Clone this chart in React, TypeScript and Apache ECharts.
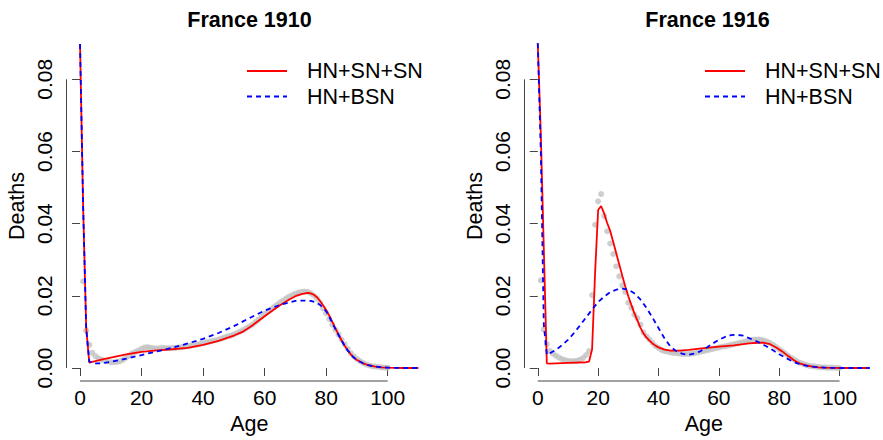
import React, { useEffect, useRef } from 'react';
import * as echarts from 'echarts';

const FONT = 'Liberation Sans, Arial, Helvetica, sans-serif';
const PANEL_TITLES = ['France 1910', 'France 1916'];
const LEGEND_NAMES = ['HN+SN+SN', 'HN+BSN'];
const X_TICKS = [0, 20, 40, 60, 80, 100];
const Y_TICKS = [0, 0.02, 0.04, 0.06, 0.08];
const X_MIN = -4.4;
const X_MAX = 114.4;
const Y_MIN = -0.0036;
const Y_MAX = 0.0934;

// observed deaths (grey dots), ages 1..100
const DOT_AGES = Array.from({ length: 100 }, (_, i) => i + 1);
const DOTS_1910 = [
  0.024, 0.0104, 0.0064, 0.0042, 0.0033, 0.0027, 0.0023, 0.002, 0.0018, 0.0016,
  0.0016, 0.0017, 0.0019, 0.0023, 0.0029, 0.0035, 0.0041, 0.0045, 0.0049, 0.0053,
  0.0057, 0.0058, 0.0056, 0.0055, 0.0054, 0.0055, 0.0056, 0.0055, 0.0055, 0.0056,
  0.0056, 0.0057, 0.0058, 0.0059, 0.0061, 0.0062, 0.0064, 0.0065, 0.0067, 0.0069,
  0.0071, 0.0073, 0.0075, 0.0077, 0.0079, 0.0082, 0.0085, 0.0088, 0.009, 0.0093,
  0.0097, 0.0101, 0.0105, 0.011, 0.0115, 0.012, 0.0127, 0.0134, 0.0142, 0.015,
  0.0156, 0.0162, 0.0169, 0.0175, 0.0182, 0.0187, 0.0193, 0.0198, 0.0202, 0.0206,
  0.0209, 0.0211, 0.0212, 0.0211, 0.0207, 0.0201, 0.0193, 0.018, 0.0165, 0.0152,
  0.0136, 0.012, 0.0106, 0.0093, 0.0079, 0.0066, 0.0053, 0.0041, 0.0032, 0.0025,
  0.0019, 0.0014, 0.001, 0.0007, 0.0005, 0.0004, 0.0003, 0.0002, 0.0001, 0.0001,
];
const DOTS_1916 = [
  0.0243, 0.0107, 0.0066, 0.0047, 0.004, 0.0034, 0.0029, 0.0025, 0.0022, 0.002,
  0.0019, 0.0019, 0.002, 0.0023, 0.0028, 0.0036, 0.0047, 0.0202, 0.0397, 0.0462,
  0.0482, 0.0421, 0.0379, 0.0345, 0.0316, 0.0282, 0.0254, 0.0229, 0.0211, 0.0181,
  0.0167, 0.0148, 0.0138, 0.012, 0.0099, 0.0088, 0.0079, 0.007, 0.0061, 0.0056,
  0.005, 0.0047, 0.0045, 0.0043, 0.0042, 0.0041, 0.004, 0.0039, 0.0039, 0.0039,
  0.004, 0.0041, 0.0043, 0.0045, 0.0047, 0.0049, 0.0051, 0.0053, 0.0055, 0.0057,
  0.0059, 0.006, 0.0062, 0.0064, 0.0066, 0.0068, 0.007, 0.0072, 0.0074, 0.0076,
  0.0078, 0.0079, 0.0079, 0.0078, 0.0076, 0.0073, 0.0069, 0.0064, 0.0058, 0.0052,
  0.0046, 0.004, 0.0034, 0.0028, 0.0023, 0.0018, 0.0014, 0.0011, 0.0008, 0.0006,
  0.0005, 0.0004, 0.0003, 0.0002, 0.0002, 0.0001, 0.0001, 0.0001, 0, 0,
];

// fitted curves
const SSN_1910_AGES = [0, 1, 2, 3, 5, 8, 10, 15, 20, 25, 30, 35, 40, 45, 50, 53, 56, 59, 62, 65, 68, 70, 72, 74, 75, 76, 77, 78, 79, 80, 81, 82, 83, 84, 85, 86, 87, 88, 89, 90, 92, 94, 96, 98, 100, 105, 110];
const SSN_1910 = [0.0898, 0.045, 0.0112, 0.0015, 0.0019, 0.0025, 0.0029, 0.0038, 0.0045, 0.0049, 0.0052, 0.0056, 0.0064, 0.0075, 0.009, 0.0101, 0.0118, 0.0137, 0.0156, 0.0174, 0.019, 0.0199, 0.0205, 0.0208, 0.0207, 0.0203, 0.0196, 0.0186, 0.0174, 0.0161, 0.0145, 0.0128, 0.011, 0.0093, 0.0077, 0.0062, 0.0049, 0.0038, 0.0029, 0.0022, 0.0013, 0.0007, 0.0004, 0.0002, 0.0001, 0, 0];
const BSN_1910_AGES = [0, 1, 2, 3, 4, 5, 7, 10, 15, 20, 25, 30, 35, 40, 45, 50, 55, 60, 65, 70, 73, 75, 77, 78, 79, 80, 81, 82, 83, 84, 85, 86, 87, 88, 89, 90, 92, 94, 96, 98, 100, 105, 110];
const BSN_1910 = [0.0898, 0.045, 0.011, 0.0018, 0.0014, 0.0013, 0.0013, 0.0017, 0.0026, 0.0036, 0.0046, 0.0056, 0.0068, 0.0081, 0.0097, 0.0116, 0.0138, 0.0159, 0.0175, 0.0186, 0.0187, 0.0186, 0.0181, 0.0175, 0.0167, 0.0157, 0.0142, 0.0125, 0.0108, 0.0092, 0.0076, 0.0062, 0.0049, 0.0038, 0.0029, 0.0022, 0.0013, 0.0007, 0.0004, 0.0002, 0.0001, 0, 0];
const SSN_1916_AGES = [0, 1, 2, 3, 4, 10, 16, 17, 18, 19, 20, 21, 22, 23, 24, 25, 26, 27, 28, 29, 30, 31, 32, 33, 34, 35, 36, 37, 38, 39, 40, 42, 44, 47, 50, 55, 60, 65, 70, 73, 75, 77, 79, 81, 83, 85, 87, 89, 91, 93, 95, 100, 110];
const SSN_1916 = [0.09, 0.065, 0.033, 0.0013, 0.0012, 0.0014, 0.0016, 0.0018, 0.0052, 0.0265, 0.0438, 0.0449, 0.0428, 0.0402, 0.038, 0.0349, 0.0318, 0.0287, 0.0256, 0.0226, 0.0199, 0.0175, 0.0152, 0.0132, 0.0112, 0.0096, 0.0085, 0.0076, 0.0068, 0.0062, 0.0057, 0.0051, 0.0048, 0.0048, 0.005, 0.0055, 0.0059, 0.0063, 0.0068, 0.007, 0.007, 0.0066, 0.0057, 0.0046, 0.0033, 0.0021, 0.0012, 0.0007, 0.0004, 0.0002, 0.0001, 0, 0];
const BSN_1916_AGES = [0, 1, 2, 3, 4, 6, 8, 10, 12, 14, 16, 18, 20, 22, 24, 26, 28, 30, 32, 34, 36, 38, 40, 42, 44, 46, 48, 50, 52, 54, 56, 58, 60, 62, 64, 66, 68, 70, 72, 74, 76, 78, 80, 82, 84, 86, 88, 90, 92, 95, 100, 110];
const BSN_1916 = [0.09, 0.06, 0.012, 0.0037, 0.0041, 0.005, 0.0063, 0.0078, 0.0097, 0.0118, 0.014, 0.0162, 0.0183, 0.0198, 0.021, 0.0217, 0.022, 0.0217, 0.0207, 0.019, 0.0167, 0.014, 0.0111, 0.0082, 0.0059, 0.0046, 0.0039, 0.0037, 0.004, 0.0047, 0.0057, 0.0068, 0.0078, 0.0086, 0.0091, 0.0092, 0.009, 0.0083, 0.0076, 0.0068, 0.0059, 0.0049, 0.0038, 0.0029, 0.002, 0.0013, 0.0008, 0.0005, 0.0003, 0.0001, 0, 0];

const PANELS = [
  { title: PANEL_TITLES[0], dots: DOTS_1910, ssnAges: SSN_1910_AGES, ssn: SSN_1910, bsnAges: BSN_1910_AGES, bsn: BSN_1910 },
  { title: PANEL_TITLES[1], dots: DOTS_1916, ssnAges: SSN_1916_AGES, ssn: SSN_1916, bsnAges: BSN_1916_AGES, bsn: BSN_1916 },
];

const GRIDS = [
  { left: 66.5, right: 451, top: 31, bottom: 54.5 },
  { left: 524.5, right: -7.5, top: 31, bottom: 54.5 },
];
const TITLE_X = [249.5, 707.5];
const LEGEND_X = [246, 704];

const zip = (a: number[], b: number[]) => a.map((x, i) => [x, b[i]]);

export default function App() {
  const ref = useRef<HTMLDivElement>(null);
  useEffect(() => {
    document.body.style.margin = '0';
    if (!ref.current) return;
    const chart = echarts.init(ref.current, undefined, { renderer: 'svg' });
    const axisColor = '#444';
    const series: any[] = [];
    PANELS.forEach((p, i) => {
      series.push({
        type: 'line', data: [[X_TICKS[0], Y_MIN], [X_TICKS[X_TICKS.length - 1], Y_MIN]],
        xAxisIndex: i, yAxisIndex: i, symbol: 'none', clip: false, silent: true,
        lineStyle: { color: axisColor, width: 1 }, z: 1,
      });
      series.push({
        type: 'line', data: [[X_MIN, Y_TICKS[0]], [X_MIN, Y_TICKS[Y_TICKS.length - 1]]],
        xAxisIndex: i, yAxisIndex: i, symbol: 'none', clip: false, silent: true,
        lineStyle: { color: axisColor, width: 1 }, z: 1,
      });
      series.push({
        type: 'scatter', data: zip(DOT_AGES, p.dots), xAxisIndex: i, yAxisIndex: i,
        symbol: 'circle', symbolSize: 6, itemStyle: { color: '#C2C2C2' }, silent: true, z: 2,
      });
      series.push({
        name: LEGEND_NAMES[0], type: 'line', data: zip(p.ssnAges, p.ssn), xAxisIndex: i, yAxisIndex: i,
        symbol: 'none', lineStyle: { color: '#FF0000', width: 1.8 }, itemStyle: { color: '#FF0000', opacity: 0 }, z: 3,
      });
      series.push({
        name: LEGEND_NAMES[1], type: 'line', data: zip(p.bsnAges, p.bsn), xAxisIndex: i, yAxisIndex: i,
        symbol: 'none', lineStyle: { color: '#0000FF', width: 1.8, type: [5, 4] }, itemStyle: { color: '#0000FF', opacity: 0 }, z: 4,
      });
    });

    chart.setOption({
      animation: false,
      textStyle: { fontFamily: FONT },
      title: PANELS.map((p, i) => ({
        text: p.title, left: TITLE_X[i], top: 8.5, textAlign: 'center', padding: 0,
        textStyle: { fontSize: 21.5, fontWeight: 'bold', color: '#000', fontFamily: FONT },
      })),
      legend: PANELS.map((_, i) => ({
        data: LEGEND_NAMES, orient: 'vertical', left: LEGEND_X[i], top: 60, padding: 0,
        itemWidth: 40, itemHeight: 14, itemGap: 3.5, selectedMode: false,
        itemStyle: { opacity: 0 },
        textStyle: { fontSize: 21.5, color: '#000', fontFamily: FONT, lineHeight: 22, padding: [0, 0, 0, 15] },
      })),
      grid: GRIDS,
      xAxis: PANELS.map((_, i) => ({
        type: 'value', gridIndex: i, min: X_MIN, max: X_MAX,
        axisLine: { show: false },
        axisTick: { show: true, customValues: X_TICKS, length: 8, lineStyle: { color: axisColor } },
        axisLabel: { customValues: X_TICKS, fontSize: 21, color: '#000', margin: 6, fontFamily: FONT },
        splitLine: { show: false },
        name: 'Age', nameLocation: 'middle', nameGap: 32,
        nameTextStyle: { fontSize: 21.5, color: '#000', fontFamily: FONT },
      })),
      yAxis: PANELS.map((_, i) => ({
        type: 'value', gridIndex: i, min: Y_MIN, max: Y_MAX,
        axisLine: { show: false },
        axisTick: { show: true, customValues: Y_TICKS, length: 8, lineStyle: { color: axisColor } },
        axisLabel: {
          customValues: Y_TICKS, fontSize: 21, color: '#000', margin: 12, rotate: 90, fontFamily: FONT,
          formatter: (v: number) => v.toFixed(2),
        },
        splitLine: { show: false },
        name: 'Deaths', nameLocation: 'middle', nameGap: 39,
        nameTextStyle: { fontSize: 21.5, color: '#000', fontFamily: FONT },
      })),
      series,
    });
    return () => chart.dispose();
  }, []);
  return <div ref={ref} style={{ width: 883, height: 440 }} />;
}
